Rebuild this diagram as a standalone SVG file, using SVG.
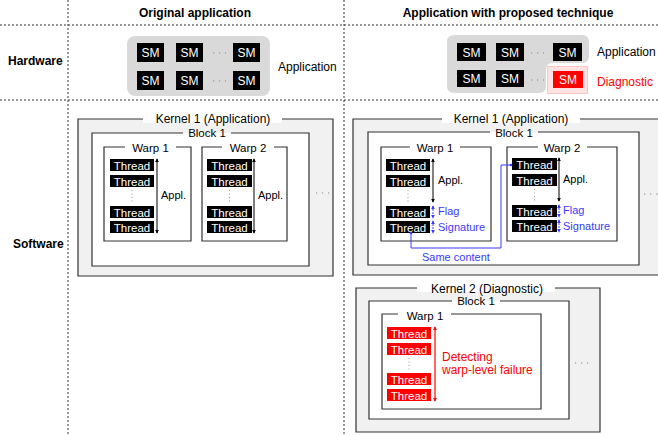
<svg xmlns="http://www.w3.org/2000/svg" width="658" height="435" viewBox="0 0 658 435">
<defs>
<style>
text{font-family:"Liberation Sans",Arial,sans-serif;fill:#000}
.hdr{font-size:12px;font-weight:bold}
.t12{font-size:12px}
.t11{font-size:11px}
.ttl{font-size:11.5px;text-anchor:middle}
.kt{font-size:12px;text-anchor:middle}
.div{stroke:#333;stroke-width:1;stroke-dasharray:2,2;fill:none}
.sm{fill:#000}
.smt{font-size:12px;fill:#fff;text-anchor:middle}
.th{fill:#000}
.thr{fill:#f00}
.tht{font-size:11.5px;fill:#fff;text-anchor:middle}
.kfill{fill:#f1f1f1;stroke:none}
.wfill{fill:#fff;stroke:none}
.bd{fill:none;stroke:#333;stroke-width:1.2}
.dots{stroke:#888;stroke-width:1.2;stroke-dasharray:1.2,4.8;fill:none}
.vdots{stroke:#999;stroke-width:1;stroke-dasharray:1,2.5;fill:none}
.ab{stroke:#000;stroke-width:1;fill:none;marker-start:url(#mb);marker-end:url(#mb)}
.au{stroke:#3a3aff;stroke-width:1;fill:none;stroke-dasharray:2,1;marker-start:url(#mu);marker-end:url(#mu)}
.ar{stroke:#f00;stroke-width:1.2;fill:none;marker-start:url(#mr);marker-end:url(#mr)}
.blue{fill:#3a3aff}
.red{fill:#f00}
</style>
<marker id="mb" viewBox="0 0 6 6" refX="5" refY="3" markerWidth="4" markerHeight="4" orient="auto-start-reverse" markerUnits="userSpaceOnUse"><path d="M0,0 L6,3 L0,6 z" fill="#000"/></marker>
<marker id="mu" viewBox="0 0 6 6" refX="5" refY="3" markerWidth="4" markerHeight="4" orient="auto-start-reverse" markerUnits="userSpaceOnUse"><path d="M0,0 L6,3 L0,6 z" fill="#3a3aff"/></marker>
<marker id="mr" viewBox="0 0 6 6" refX="5" refY="3" markerWidth="4" markerHeight="4" orient="auto-start-reverse" markerUnits="userSpaceOnUse"><path d="M0,0 L6,3 L0,6 z" fill="#f00"/></marker>
</defs>
<rect x="0" y="0" width="658" height="435" fill="#fff"/>

<g id="dividers">
<line class="div" x1="0" y1="25" x2="658" y2="25"/>
<line class="div" x1="0" y1="100" x2="658" y2="100"/>
<line class="div" x1="68" y1="0" x2="68" y2="435"/>
<line class="div" x1="344" y1="0" x2="344" y2="435"/>
</g>

<g id="headers">
<text class="hdr" x="195" y="17" text-anchor="middle">Original application</text>
<text class="hdr" x="508" y="17" text-anchor="middle">Application with proposed technique</text>
<text class="hdr" x="8" y="65">Hardware</text>
<text class="hdr" x="13" y="248">Software</text>
</g>

<g id="hw-original">
<rect x="127" y="36" width="143" height="60" rx="8" fill="#d9d9d9"/>
<rect class="sm" x="137" y="43" width="27" height="19"/><text class="smt" x="150.5" y="57">SM</text>
<rect class="sm" x="176" y="43" width="27" height="19"/><text class="smt" x="189.5" y="57">SM</text>
<rect class="sm" x="233" y="43" width="27" height="19"/><text class="smt" x="246.5" y="57">SM</text>
<rect class="sm" x="137" y="71" width="27" height="19"/><text class="smt" x="150.5" y="85">SM</text>
<rect class="sm" x="176" y="71" width="27" height="19"/><text class="smt" x="189.5" y="85">SM</text>
<rect class="sm" x="233" y="71" width="27" height="19"/><text class="smt" x="246.5" y="85">SM</text>
<line class="dots" x1="213" y1="53" x2="226" y2="53"/>
<line class="dots" x1="213" y1="81" x2="226" y2="81"/>
<text class="t12" x="278" y="71">Application</text>
</g>

<g id="hw-proposed">
<path d="M454,35 H582 Q589,35 589,42 V56 Q589,63 582,63 H553 Q546,63 546,70 V86 Q546,93 539,93 H454 Q447,93 447,86 V42 Q447,35 454,35 Z" fill="#d9d9d9"/>
<rect class="sm" x="457" y="43" width="29" height="18"/><text class="smt" x="471.5" y="56.5">SM</text>
<rect class="sm" x="496" y="43" width="28" height="18"/><text class="smt" x="510" y="56.5">SM</text>
<rect class="sm" x="553" y="43" width="29" height="18"/><text class="smt" x="567.5" y="56.5">SM</text>
<rect class="sm" x="457" y="70" width="29" height="17"/><text class="smt" x="471.5" y="83">SM</text>
<rect class="sm" x="496" y="70" width="28" height="17"/><text class="smt" x="510" y="83">SM</text>
<line class="dots" x1="531" y1="53" x2="544" y2="53"/>
<line class="dots" x1="531" y1="80" x2="544" y2="80"/>
<rect x="547.5" y="66.5" width="40" height="27" fill="#ffe3e3" stroke="#ff9a9a" stroke-width="1" stroke-dasharray="1,1"/>
<rect x="553" y="71" width="30" height="17" fill="#f00"/><text class="smt" x="568" y="84">SM</text>
<text class="t12" x="597" y="56">Application</text>
<text class="t12 red" x="597" y="86">Diagnostic</text>
</g>

<g id="kernel1-original">
<rect class="kfill" x="78" y="119" width="255" height="157"/>
<path class="bd" d="M282,119 H333 V276 H78 V119 H143"/>
<rect x="143" y="113" width="139" height="10" fill="#fff"/>
<text class="kt" x="213" y="123">Kernel 1 (Application)</text>
<line class="dots" x1="292" y1="193" x2="306" y2="193"/>
<line class="dots" x1="316" y1="193" x2="330" y2="193"/>
</g>
<g id="block1-original">
<rect class="wfill" x="92" y="133" width="217" height="133"/>
<path class="bd" d="M231,133 H309 V266 H92 V133 H183"/>
<text class="ttl" x="207" y="137">Block 1</text>
</g>
<g id="warp1-original">
<rect class="wfill" x="104" y="147" width="87" height="94"/>
<path class="bd" d="M176,147 H191 V241 H104 V147 H125"/>
<text class="ttl" x="150.5" y="152">Warp 1</text>
<rect class="th" x="110" y="159" width="44" height="12"/><text class="tht" x="132" y="169.5">Thread</text>
<rect class="th" x="110" y="175" width="44" height="12"/><text class="tht" x="132" y="185.5">Thread</text>
<line class="vdots" x1="132" y1="190" x2="132" y2="203"/>
<rect class="th" x="110" y="206" width="44" height="12"/><text class="tht" x="132" y="216.5">Thread</text>
<rect class="th" x="110" y="221" width="44" height="12"/><text class="tht" x="132" y="231.5">Thread</text>
<text class="t11" x="161" y="199">Appl.</text>
</g>
<g id="warp2-original">
<rect class="wfill" x="202" y="147" width="85" height="94"/>
<path class="bd" d="M274,147 H287 V241 H202 V147 H222"/>
<text class="ttl" x="248" y="152">Warp 2</text>
<rect class="th" x="207" y="159" width="45" height="12"/><text class="tht" x="229.5" y="169.5">Thread</text>
<rect class="th" x="207" y="175" width="45" height="12"/><text class="tht" x="229.5" y="185.5">Thread</text>
<line class="vdots" x1="229.5" y1="190" x2="229.5" y2="203"/>
<rect class="th" x="207" y="206" width="45" height="12"/><text class="tht" x="229.5" y="216.5">Thread</text>
<rect class="th" x="207" y="221" width="45" height="12"/><text class="tht" x="229.5" y="231.5">Thread</text>
<text class="t11" x="258" y="199">Appl.</text>
</g>

<g id="kernel1-proposed">
<rect class="kfill" x="353" y="119" width="310" height="156"/>
<path class="bd" d="M580,119 H662 M662,275 H353 V119 H442"/>
<rect x="442" y="113" width="138" height="10" fill="#fff"/>
<text class="kt" x="511" y="123">Kernel 1 (Application)</text>
<line class="dots" x1="620" y1="194" x2="634" y2="194"/>
<line class="dots" x1="644" y1="194" x2="658" y2="194"/>
</g>
<g id="block1-proposed">
<rect class="wfill" x="368" y="132" width="271" height="133"/>
<path class="bd" d="M538,132 H639 V265 H368 V132 H490"/>
<text class="ttl" x="514" y="137">Block 1</text>
</g>
<g id="warp1-proposed">
<rect class="wfill" x="381" y="147" width="110" height="94"/>
<path class="bd" d="M460,147 H491 V241 H381 V147 H410"/>
<text class="ttl" x="435" y="152">Warp 1</text>
<rect class="th" x="386" y="159" width="44" height="12"/><text class="tht" x="408" y="169.5">Thread</text>
<rect class="th" x="386" y="175" width="44" height="12"/><text class="tht" x="408" y="185.5">Thread</text>
<line class="vdots" x1="408" y1="190" x2="408" y2="203"/>
<rect class="th" x="386" y="206" width="44" height="12"/><text class="tht" x="408" y="216.5">Thread</text>
<rect class="th" x="386" y="221" width="44" height="12"/><text class="tht" x="408" y="231.5">Thread</text>
<text class="t11" x="438" y="184">Appl.</text>
<text class="t11 blue" x="438" y="215">Flag</text>
<text class="t11 blue" x="438" y="231">Signature</text>
</g>
<g id="warp2-proposed">
<rect class="wfill" x="507" y="147" width="110" height="94"/>
<path class="bd" d="M587,147 H617 V241 H507 V147 H538"/>
<text class="ttl" x="562" y="152">Warp 2</text>
<rect class="th" x="512" y="158" width="45" height="12"/><text class="tht" x="534.5" y="168.5">Thread</text>
<rect class="th" x="512" y="174" width="45" height="12"/><text class="tht" x="534.5" y="184.5">Thread</text>
<line class="vdots" x1="534.5" y1="189" x2="534.5" y2="202"/>
<rect class="th" x="512" y="205" width="45" height="12"/><text class="tht" x="534.5" y="215.5">Thread</text>
<rect class="th" x="512" y="220" width="45" height="12"/><text class="tht" x="534.5" y="230.5">Thread</text>
<text class="t11" x="563" y="183">Appl.</text>
<text class="t11 blue" x="563" y="214">Flag</text>
<text class="t11 blue" x="563" y="230">Signature</text>
</g>

<g id="kernel2-diagnostic">
<rect class="kfill" x="356" y="288" width="244" height="144"/>
<path class="bd" d="M555,288 H600 V432 H356 V288 H417"/>
<rect x="417" y="282" width="138" height="10" fill="#fff"/>
<text class="kt" x="487" y="292.5">Kernel 2 (Diagnostic)</text>
<line class="dots" x1="548" y1="363" x2="562" y2="363"/>
<line class="dots" x1="575" y1="363" x2="590" y2="363"/>
</g>
<g id="block1-diagnostic">
<rect class="wfill" x="369" y="301" width="200" height="118"/>
<path class="bd" d="M500,301 H569 V419 H369 V301 H452"/>
<text class="ttl" x="476" y="305">Block 1</text>
</g>
<g id="warp1-diagnostic">
<rect class="wfill" x="382" y="314" width="159" height="95"/>
<path class="bd" d="M451,314 H541 V409 H382 V314 H398"/>
<text class="ttl" x="425" y="320">Warp 1</text>
<rect class="thr" x="387" y="327" width="44" height="12"/><text class="tht" x="409" y="337.5">Thread</text>
<rect class="thr" x="387" y="343" width="44" height="12"/><text class="tht" x="409" y="353.5">Thread</text>
<line class="vdots" x1="409" y1="358" x2="409" y2="370"/>
<rect class="thr" x="387" y="373" width="44" height="12"/><text class="tht" x="409" y="383.5">Thread</text>
<rect class="thr" x="387" y="389" width="44" height="12"/><text class="tht" x="409" y="399.5">Thread</text>
<text class="t12 red" x="442" y="361">Detecting</text>
<text class="t12 red" x="442" y="374">warp-level failure</text>
</g>

<g id="connectors">
<line class="ab" x1="157" y1="159" x2="157" y2="233"/>
<line class="ab" x1="254" y1="159" x2="254" y2="233"/>
<line class="ab" x1="433" y1="159" x2="433" y2="202"/>
<line class="au" x1="433" y1="206" x2="433" y2="218"/>
<line class="au" x1="433" y1="221" x2="433" y2="233"/>
<line class="ab" x1="559" y1="158" x2="559" y2="201"/>
<line class="au" x1="559" y1="205" x2="559" y2="217"/>
<line class="au" x1="559" y1="220" x2="559" y2="232"/>
<line class="ar" x1="435" y1="327" x2="435" y2="401"/>
<g id="same-content-link">
<path d="M411,233 V248 H501 V165 H512" fill="none" stroke="#3a3aff" stroke-width="1"/>
<circle cx="411" cy="233" r="1.3" fill="#3a3aff"/>
<circle cx="511" cy="165" r="1.3" fill="#3a3aff"/>
<text class="t11 blue" x="422" y="261">Same content</text>
</g>
</g>
</svg>
